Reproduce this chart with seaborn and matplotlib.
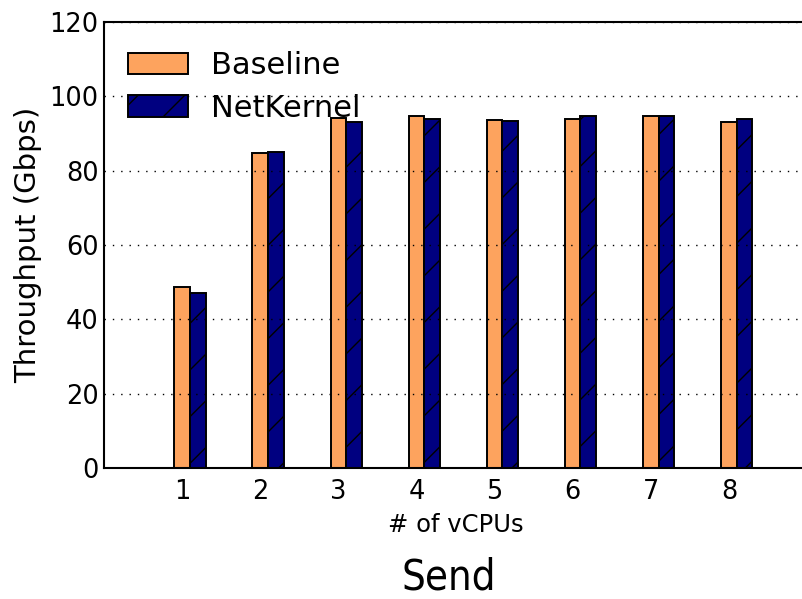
import matplotlib
matplotlib.use("Agg")
import matplotlib.pyplot as plt
from matplotlib.patches import Patch
import numpy as np
import pandas as pd
import seaborn as sns

# Send throughput per vCPU count
vcpus = [1, 2, 3, 4, 5, 6, 7, 8]
baseline = [48.8, 84.8, 94.3, 94.8, 93.6, 94.0, 94.7, 93.1]
netkernel = [47.0, 85.0, 93.1, 93.9, 93.4, 94.6, 94.6, 94.0]
series_names = ["Baseline", "NetKernel"]
y_ticks = [0, 20, 40, 60, 80, 100, 120]

colors = {"Baseline": "#FDA35E", "NetKernel": "#000080"}

# render at a higher dpi (wider hatch spacing); sizes given in points are scaled back
DPI = 140
S = 100 / DPI
W, H = 802, 599

sns.set_style("white")
plt.rcParams["font.family"] = ["DejaVu Sans"]
plt.rcParams["text.color"] = "black"
plt.rcParams["axes.labelcolor"] = "black"
plt.rcParams["hatch.color"] = "black"
plt.rcParams["hatch.linewidth"] = 1.0 * S

df = pd.DataFrame({
    "vcpu": vcpus * 2,
    "value": baseline + netkernel,
    "series": [series_names[0]] * len(vcpus) + [series_names[1]] * len(vcpus),
})
# shift so the Baseline bar sits centred on its tick, NetKernel to its right
bar_w = 0.2
df["xpos"] = df["vcpu"] + bar_w / 2

fig = plt.figure(figsize=(W / DPI, H / DPI), dpi=DPI)
ax = fig.add_axes([104 / W, 1 - 468 / H, 703 / W, 446 / H])

sns.barplot(data=df, x="xpos", y="value", hue="series", hue_order=series_names,
            palette=colors, saturation=1, native_scale=True, width=2 * bar_w,
            gap=0, errorbar=None, edgecolor="black", linewidth=1.4 * S, ax=ax,
            legend=False, zorder=2)

for p in ax.patches:
    fc = p.get_facecolor()
    if fc[2] > 0.4 and fc[0] < 0.2:
        p.set_hatch("/")

ax.set_xlim(0, 9)
ax.set_ylim(0, 120)
ax.set_xticks(vcpus)
ax.set_xticklabels([str(v) for v in vcpus])
ax.set_yticks(y_ticks)
ax.tick_params(axis="both", length=0, labelsize=18.5 * S, colors="black")
ax.tick_params(axis="x", pad=8 * S)
ax.tick_params(axis="y", pad=4 * S)

ax.yaxis.grid(True, linestyle=(0, (1, 5)), color="black", linewidth=1.0 * S)
ax.xaxis.grid(False)
ax.set_axisbelow(False)

for s in ax.spines.values():
    s.set_color("black")
    s.set_linewidth(1.5 * S)

ax.set_xlabel("# of vCPUs", fontsize=17.5 * S, labelpad=6 * S)
ax.set_ylabel("Throughput (Gbps)", fontsize=21 * S)
ax.yaxis.set_label_coords(-0.088, 0.5)

handles = [Patch(facecolor=colors["Baseline"], edgecolor="black", linewidth=1.4 * S),
           Patch(facecolor=colors["NetKernel"], edgecolor="black", linewidth=1.4 * S,
                 hatch="/")]
ax.legend(handles, series_names, loc="upper left", frameon=False, fontsize=22 * S,
          handlelength=1.96, handleheight=0.69, handletextpad=0.75,
          labelspacing=0.45, borderaxespad=0.4, bbox_to_anchor=(0.0, 0.99))

fig.text(449 / W, 1 - 578 / H, "Send", fontsize=30 * S, ha="center", va="center",
         fontstretch="condensed")

fig.savefig("out.png", dpi=DPI)
